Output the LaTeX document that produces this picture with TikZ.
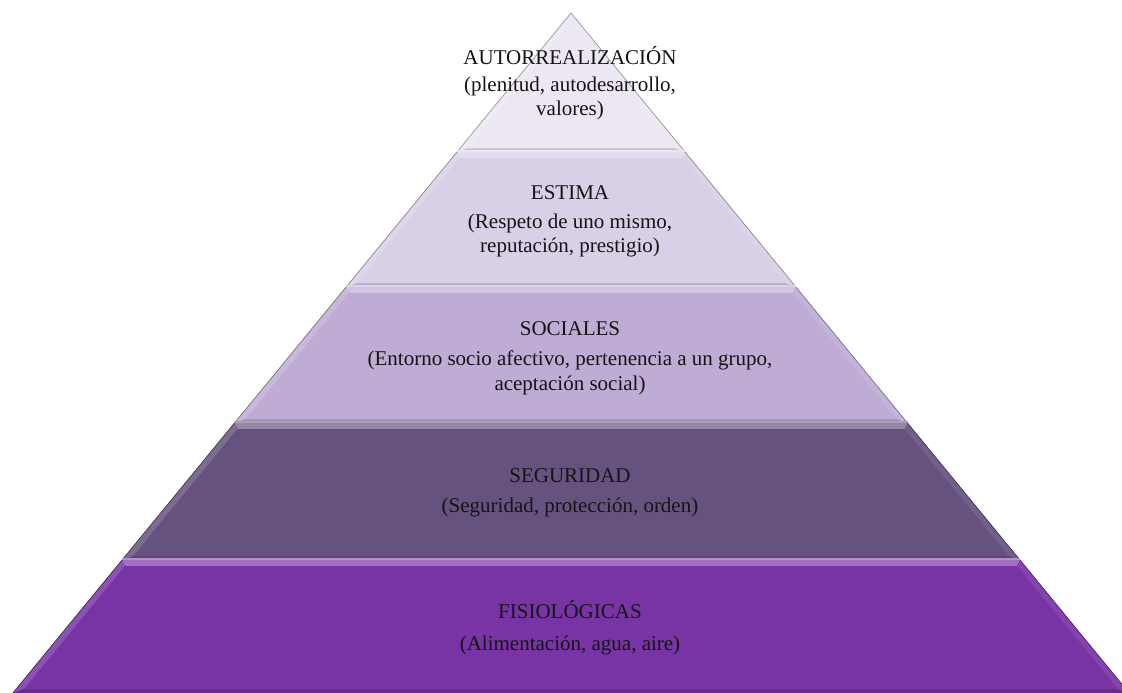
\documentclass[tikz,border=0pt]{standalone}
\usepackage{fontspec}
\setmainfont{Liberation Serif}
\definecolor{lvA}{HTML}{ECE7F3}
\definecolor{lvB}{HTML}{D9CFE6}
\definecolor{lvC}{HTML}{BEACD5}
\definecolor{lvD}{HTML}{66527F}
\definecolor{lvE}{HTML}{7834A5}
\definecolor{txt}{HTML}{141414}
\newcommand\pyrband[4]{%
  \pgfmathsetmacro\ha{0.8208*(#1-13)}%
  \pgfmathsetmacro\hb{0.8208*(#2-13)}%
  \pgfmathsetmacro\hai{max(0.8208*(#3-13)-8,0)}%
  \pgfmathsetmacro\yib{#2-4}%
  \pgfmathsetmacro\hbi{0.8208*(\yib-13)-8}%
  \coordinate (TL) at (571-\ha,#1);
  \coordinate (TR) at (571+\ha,#1);
  \coordinate (BR) at (571+\hb,#2);
  \coordinate (BL) at (571-\hb,#2);
  \coordinate (tl) at (571-\hai,#3);
  \coordinate (tr) at (571+\hai,#3);
  \coordinate (br) at (571+\hbi,\yib);
  \coordinate (bl) at (571-\hbi,\yib);
  \fill[#4] (TL) -- (TR) -- (BR) -- (BL) -- cycle;
  \fill[#4!70!white] (TL) -- (TR) -- (tr) -- (tl) -- cycle;
  \fill[#4!85!white] (TL) -- (tl) -- (bl) -- (BL) -- cycle;
  \fill[#4!92!white] (TR) -- (tr) -- (br) -- (BR) -- cycle;
  \fill[#4!85!black] (BL) -- (bl) -- (br) -- (BR) -- cycle;
  \fill[#4] (tl) -- (tr) -- (br) -- (bl) -- cycle;
  \draw[#4!55!white, line width=1.2pt] ([yshift=1pt]TL) -- ([yshift=1pt]TR);
  \draw[#4!65!black, line width=0.8pt] ([yshift=-0.4pt]BL) -- ([yshift=-0.4pt]BR);
  \draw[#4!60!black, line width=0.6pt] (TL) -- (BL) (TR) -- (BR);
}
\begin{document}
\begin{tikzpicture}[x=1pt,y=-1pt,
  lvtext/.style={font=\fontsize{21}{25}\selectfont, anchor=base, inner sep=0pt, text=txt}]
\useasboundingbox (0,0) rectangle (1122,693);
\fill[white] (0,0) rectangle (1122,693);
\begin{scope}
\clip (0,0) rectangle (1122,693);
\pyrband{13}{152}{22.7}{lvA}
\pyrband{152}{287}{158}{lvB}
\pyrband{287}{423}{293}{lvC}
\pyrband{423}{560}{429}{lvD}
\pyrband{560}{693}{566}{lvE}
\end{scope}
\node[lvtext] (a1) at (570,64) {AUTORREALIZACIÓN};
\node[lvtext] (a2) at (570,92) {(plenitud, autodesarrollo,};
\node[lvtext] (a3) at (570,115) {valores)};
\node[lvtext] (b1) at (570,199) {ESTIMA};
\node[lvtext] (b2) at (570,228) {(Respeto de uno mismo,};
\node[lvtext] (b3) at (570,252) {reputación, prestigio)};
\node[lvtext] (c1) at (570,335) {SOCIALES};
\node[lvtext] (c2) at (570,365) {(Entorno socio afectivo, pertenencia a un grupo,};
\node[lvtext] (c3) at (570,390) {aceptación social)};
\node[lvtext] (d1) at (570,482) {SEGURIDAD};
\node[lvtext] (d2) at (570,512) {(Seguridad, protección, orden)};
\node[lvtext] (e1) at (570,618) {FISIOLÓGICAS};
\node[lvtext] (e2) at (570,650) {(Alimentación, agua, aire)};
\end{tikzpicture}
\end{document}
